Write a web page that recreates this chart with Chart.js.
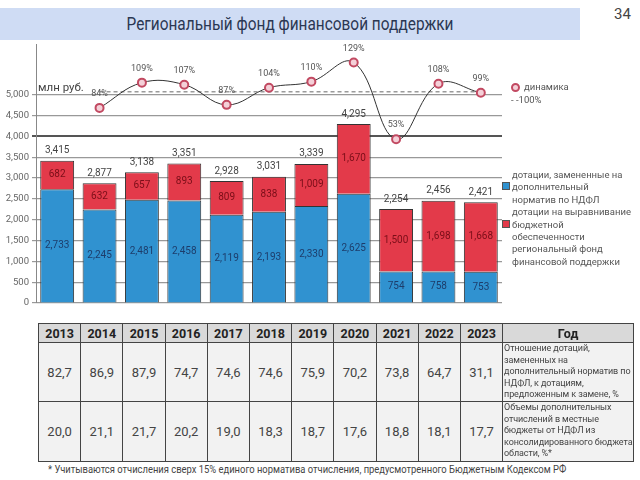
<!DOCTYPE html>
<html>
<head>
<meta charset="utf-8">
<script src="https://cdn.jsdelivr.net/npm/chart.js@4"></script>
<style>
  body { margin: 0; width: 640px; height: 480px; background: #fff; position: relative; overflow: hidden;
         font-family: Roboto, "DejaVu Sans Condensed", sans-serif; }
  .abs { position: absolute; }
  #titleBar { left: 0; top: 8px; width: 580px; height: 32px; background: #cfdcf4; }
  #title { left: 0; top: 8px; width: 580px; height: 32px; line-height: 32px; text-align: center;
           font-size: 17.5px; color: #2b3752; transform: scaleX(0.88); transform-origin: 290px 50%; }
  #pageNum { left: 614px; top: 5px; font-size: 15px; color: #444; }
  #unit { left: 38px; top: 80px; font-size: 11.5px; color: #444; }
  #chartBox { left: 0; top: 36px; width: 640px; height: 276px; }
  .leg { font-size: 9.5px; color: #555; white-space: nowrap; }
  .sq { width: 6px; height: 6px; border: 1px solid #555; }
  #dataTable { left: 38px; top: 323px; border-collapse: collapse; table-layout: fixed; }
  #dataTable td { border: 1.5px solid #444; text-align: center; padding: 0; color: #444; background: #f2f2f2; font-size: 13px; overflow: hidden; }
  #dataTable tr.head td { background: #d9d9d9; font-weight: bold; color: #222; font-size: 12.5px; height: 18px; }
  #dataTable td.desc { text-align: left; font-size: 9px; line-height: 11.6px; vertical-align: top; padding-left: 1px; color: #444; white-space: nowrap; letter-spacing: -0.1px; }
  #footnote { left: 48px; top: 464px; font-size: 10px; color: #444; white-space: nowrap; transform: scaleX(0.94); transform-origin: 0 50%; }
</style>
</head>
<body>
<div id="titleBar" class="abs"></div>
<div id="title" class="abs">Региональный фонд финансовой поддержки</div>
<div id="pageNum" class="abs">34</div>
<div id="chartBox" class="abs"><canvas id="fundChart" width="640" height="276"></canvas></div>
<div id="unit" class="abs">млн руб.</div>

<div class="abs leg" style="left:511px; top:83px; width:9px; height:9px;">
  <div style="width:5px;height:5px;border:2px solid #c24a62;border-radius:50%;background:#f4d0d8;"></div>
</div>
<div class="abs leg" style="left:524px; top:81px;">динамика</div>
<div class="abs leg" style="left:511px; top:94px;">- -100%</div>

<div class="abs sq" style="left:502px; top:182px; background:#3092d0;"></div>
<div class="abs sq" style="left:502px; top:220px; background:#e33a4a;"></div>
<div class="abs leg" style="left:512px; top:169px; line-height:12.4px;">
  дотации, замененные на<br>дополнительный<br>норматив по НДФЛ<br>дотации на выравнивание<br>бюджетной<br>обеспеченности<br>региональный фонд<br>финансовой поддержки
</div>

<table id="dataTable" class="abs"></table>
<div id="footnote" class="abs">* Учитываются отчисления сверх 15% единого норматива отчисления, предусмотренного Бюджетным Кодексом РФ</div>

<script>
const years = ['2013', '2014', '2015', '2016', '2017', '2018', '2019', '2020', '2021', '2022', '2023'];
const replacedSubsidies = [2733, 2245, 2481, 2458, 2119, 2193, 2330, 2625, 754, 758, 753];
const equalizationSubsidies = [682, 632, 657, 893, 809, 838, 1009, 1670, 1500, 1698, 1668];
const fundTotals = [3415, 2877, 3138, 3351, 2928, 3031, 3339, 4295, 2254, 2456, 2421];
const dynamicsPct = [null, 84, 109, 107, 87, 104, 110, 129, 53, 108, 99];
const baselinePct = [null, 100, 100, 100, 100, 100, 100, 100, 100, 100, 100];
const yTickValues = [0, 500, 1000, 1500, 2000, 2500, 3000, 3500, 4000, 4500, 5000];

const ratioPct = [82.7, 86.9, 87.9, 74.7, 74.6, 74.6, 75.9, 70.2, 73.8, 64.7, 31.1];
const ndflSharePct = [20.0, 21.1, 21.7, 20.2, 19.0, 18.3, 18.7, 17.6, 18.8, 18.1, 17.7];
const rowLabels = [
  'Отношение дотаций,<br>замененных на<br>дополнительный норматив по<br>НДФЛ, к дотациям,<br>предложенным к замене, %',
  'Объемы дополнительных<br>отчислений в местные<br>бюджеты от НДФЛ из<br>консолидированного бюджета<br>области, %*'
];

const FONT = 'Roboto, "DejaVu Sans Condensed", sans-serif';
const fmt = (v) => v.toLocaleString('en-US');
const fmtDec = (v) => v.toFixed(1).replace('.', ',');

// table under the chart
const table = document.getElementById('dataTable');
let html = '<colgroup>' + years.map(() => '<col style="width:42.2px">').join('') + '<col style="width:131px"></colgroup>';
html += '<tr class="head">' + years.map((y) => '<td>' + y + '</td>').join('') + '<td>Год</td></tr>';
html += '<tr style="height:59px">' + ratioPct.map((v) => '<td>' + fmtDec(v) + '</td>').join('') + '<td class="desc">' + rowLabels[0] + '</td></tr>';
html += '<tr style="height:60px">' + ndflSharePct.map((v) => '<td>' + fmtDec(v) + '</td>').join('') + '<td class="desc">' + rowLabels[1] + '</td></tr>';
table.innerHTML = html;

const valueLabels = {
  id: 'valueLabels',
  afterDatasetsDraw(chart) {
    const ctx = chart.ctx;
    ctx.save();
    ctx.textAlign = 'center';
    ctx.textBaseline = 'middle';
    ctx.font = '10px ' + FONT;

    const blue = chart.getDatasetMeta(0);
    const red = chart.getDatasetMeta(1);
    blue.data.forEach((bar, i) => {
      ctx.fillStyle = '#1d3d6b';
      ctx.fillText(fmt(replacedSubsidies[i]), bar.x, (bar.y + bar.base) / 2);
    });
    red.data.forEach((bar, i) => {
      ctx.fillStyle = '#7a0e18';
      ctx.fillText(fmt(equalizationSubsidies[i]), bar.x, (bar.y + bar.base) / 2);
      ctx.fillStyle = '#444';
      ctx.fillText(fmt(fundTotals[i]), bar.x, bar.y - 10);
    });

    const line = chart.getDatasetMeta(2);
    ctx.font = '9px ' + FONT;
    ctx.fillStyle = '#555';
    line.data.forEach((pt, i) => {
      if (dynamicsPct[i] == null) return;
      ctx.fillText(dynamicsPct[i] + '%', pt.x, pt.y - 14);
    });
    ctx.restore();
  }
};

new Chart(document.getElementById('fundChart'), {
  type: 'bar',
  data: {
    labels: years,
    datasets: [
      {
        label: 'дотации, замененные на дополнительный норматив по НДФЛ',
        data: replacedSubsidies,
        backgroundColor: '#3092d0',
        borderColor: '#333',
        borderWidth: 1,
        barPercentage: 0.8,
        categoryPercentage: 1,
        stack: 'fund',
        order: 2
      },
      {
        label: 'дотации на выравнивание бюджетной обеспеченности',
        data: equalizationSubsidies,
        backgroundColor: '#e33a4a',
        borderColor: '#333',
        borderWidth: 1,
        barPercentage: 0.8,
        categoryPercentage: 1,
        stack: 'fund',
        order: 3
      },
      {
        type: 'line',
        label: 'динамика',
        data: dynamicsPct,
        yAxisID: 'y2',
        borderColor: '#333',
        borderWidth: 1,
        tension: 0.4,
        pointRadius: 4,
        pointBackgroundColor: '#f4d0d8',
        pointBorderColor: '#c24a62',
        pointBorderWidth: 2,
        order: 0
      },
      {
        type: 'line',
        label: '100%',
        data: baselinePct,
        yAxisID: 'y2',
        borderColor: '#9a9a9a',
        borderWidth: 1.5,
        borderDash: [4, 3],
        pointRadius: 0,
        order: 1
      }
    ]
  },
  options: {
    responsive: false,
    animation: false,
    locale: 'en-US',
    layout: { padding: { left: 0, right: 138, top: 8, bottom: 9 } },
    plugins: {
      legend: { display: false },
      tooltip: { enabled: false }
    },
    scales: {
      x: {
        display: false,
        stacked: true
      },
      y: {
        stacked: true,
        min: 0,
        max: 6200,
        afterBuildTicks: (scale) => {
          scale.ticks = yTickValues.map((v) => ({ value: v }));
        },
        afterFit: (scale) => { scale.width = 36; },
        ticks: {
          color: '#666',
          padding: 3,
          font: { size: 9.5, family: FONT }
        },
        grid: {
          color: (c) => (c.tick && c.tick.value === 4000 ? '#555' : '#999'),
          lineWidth: (c) => (c.tick && c.tick.value === 4000 ? 2 : 1.2),
          tickLength: 4
        },
        border: { display: true, color: '#888' }
      },
      y2: {
        display: false,
        min: -109.3,
        max: 146.6
      }
    }
  },
  plugins: [valueLabels]
});
</script>
</body>
</html>
